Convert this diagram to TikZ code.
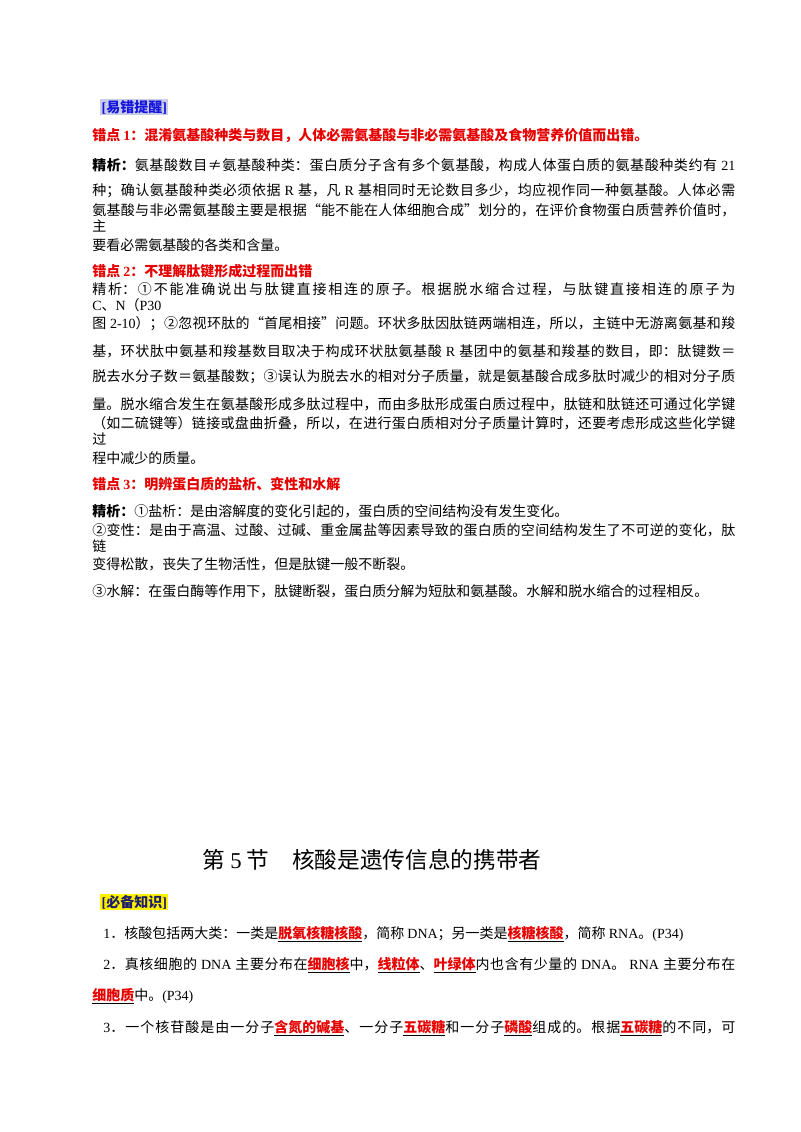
\documentclass[tikz,border=0pt]{standalone}
\usepackage{fontspec}
\setmainfont{Noto Sans CJK SC}
\newfontfamily\en{Liberation Serif}
\newcommand\E[1]{{\en #1}}
\newdimen\px \px=0.75pt
\XeTeXlinebreaklocale "zh"
\XeTeXlinebreakskip=0pt plus 1pt
\definecolor{rd}{RGB}{230,0,0}
\definecolor{bl}{RGB}{20,20,220}
\definecolor{nv}{RGB}{30,30,110}
\newcommand\kw[1]{\underline{\textcolor{rd}{\bfseries #1}}}
\newcommand\J[1]{\parbox{643\px}{\parindent=0pt\parfillskip=0pt\spaceskip=2.6pt plus 1pt\relax\xspaceskip=2.6pt plus 1pt\relax #1}}
\newcommand\JJ[1]{\parbox{632\px}{\parindent=0pt\parfillskip=0pt\spaceskip=2.6pt plus 1pt\relax\xspaceskip=2.6pt plus 1pt\relax #1}}
\tikzset{ln/.style={anchor=west,inner sep=0pt,font=\fontsize{10.5pt}{12pt}\selectfont},
 err/.style={ln,text=rd,font=\fontsize{10.5pt}{12pt}\selectfont\bfseries}}
\begin{document}
\begin{tikzpicture}[x=0.75pt,y=-0.75pt]
\useasboundingbox[fill=white] (0,0) rectangle (800,1132);
\node[ln,fill={rgb,255:red,200;green,204;blue,232},inner sep=1pt,text=bl,font=\fontsize{10.5pt}{12pt}\selectfont\bfseries] (t1) at (100,107) {\E{[}易错提醒\E{]}};
\node[err] (e1) at (92,135) {错点 \E{1}：混淆氨基酸种类与数目，人体必需氨基酸与非必需氨基酸及食物营养价值而出错。};
\node[ln] (a1) at (92,165) {\J{\textbf{精析：}氨基酸数目≠氨基酸种类：蛋白质分子含有多个氨基酸，构成人体蛋白质的氨基酸种类约有 \E{21}}};
\node[ln] (a2) at (92,191) {\J{种；确认氨基酸种类必须依据 \E{R} 基，凡 \E{R} 基相同时无论数目多少，均应视作同一种氨基酸。人体必需}};
\node[ln] (a3) at (92,218) {\J{氨基酸与非必需氨基酸主要是根据“能不能在人体细胞合成”划分的，在评价食物蛋白质营养价值时，主}};
\node[ln] (a4) at (92,245) {要看必需氨基酸的各类和含量。};
\node[err] (e2) at (92,271) {错点 \E{2}：不理解肽键形成过程而出错};
\node[ln] (b1) at (92,297) {\J{精析：①不能准确说出与肽键直接相连的原子。根据脱水缩合过程，与肽键直接相连的原子为 \E{C}、\E{N}（\E{P30}}};
\node[ln] (b2) at (92,324) {\J{图 \E{2-10}）；②忽视环肽的“首尾相接”问题。环状多肽因肽链两端相连，所以，主链中无游离氨基和羧}};
\node[ln] (b3) at (92,351) {\J{基，环状肽中氨基和羧基数目取决于构成环状肽氨基酸 \E{R} 基团中的氨基和羧基的数目，即：肽键数＝}};
\node[ln] (b4) at (92,377) {\J{脱去水分子数＝氨基酸数；③误认为脱去水的相对分子质量，就是氨基酸合成多肽时减少的相对分子质}};
\node[ln] (b5) at (92,404) {\J{量。脱水缩合发生在氨基酸形成多肽过程中，而由多肽形成蛋白质过程中，肽链和肽链还可通过化学键}};
\node[ln] (b6) at (92,431) {\J{（如二硫键等）链接或盘曲折叠，所以，在进行蛋白质相对分子质量计算时，还要考虑形成这些化学键过}};
\node[ln] (b7) at (92,458) {程中减少的质量。};
\node[err] (e3) at (92,484) {错点 \E{3}：明辨蛋白质的盐析、变性和水解};
\node[ln] (c1) at (92,511) {\textbf{精析：}①盐析：是由溶解度的变化引起的，蛋白质的空间结构没有发生变化。};
\node[ln] (c2) at (92,538) {\J{②变性：是由于高温、过酸、过碱、重金属盐等因素导致的蛋白质的空间结构发生了不可逆的变化，肽链}};
\node[ln] (c3) at (92,564) {变得松散，丧失了生物活性，但是肽键一般不断裂。};
\node[ln] (c4) at (92,591) {③水解：在蛋白酶等作用下，肽键断裂，蛋白质分解为短肽和氨基酸。水解和脱水缩合的过程相反。};
\node[inner sep=0pt,font=\fontsize{17pt}{20pt}\selectfont] (ti) at (372,860) {第 \E{5} 节\quad 核酸是遗传信息的携带者};
\node[ln,fill=yellow,inner sep=1pt,text=nv,font=\fontsize{10.5pt}{12pt}\selectfont\bfseries] (t2) at (100,902) {\E{[}必备知识\E{]}};
\node[ln] (d1) at (103,934) {\E{1}．核酸包括两大类：一类是\kw{脱氧核糖核酸}，简称 \E{DNA}；另一类是\kw{核糖核酸}，简称 \E{RNA}。\E{(P34)}};
\node[ln] (d2) at (103,965) {\JJ{\E{2}．真核细胞的 \E{DNA} 主要分布在\kw{细胞核}中，\kw{线粒体}、\kw{叶绿体}内也含有少量的 \E{DNA}。 \E{RNA} 主要分布在}};
\node[ln] (d3) at (92,996) {\kw{细胞质}中。\E{(P34)}};
\node[ln] (d4) at (103,1028) {\JJ{\E{3}．一个核苷酸是由一分子\kw{含氮的碱基}、一分子\kw{五碳糖}和一分子\kw{磷酸}组成的。根据\kw{五碳糖}的不同，可}};
\end{tikzpicture}
\end{document}
